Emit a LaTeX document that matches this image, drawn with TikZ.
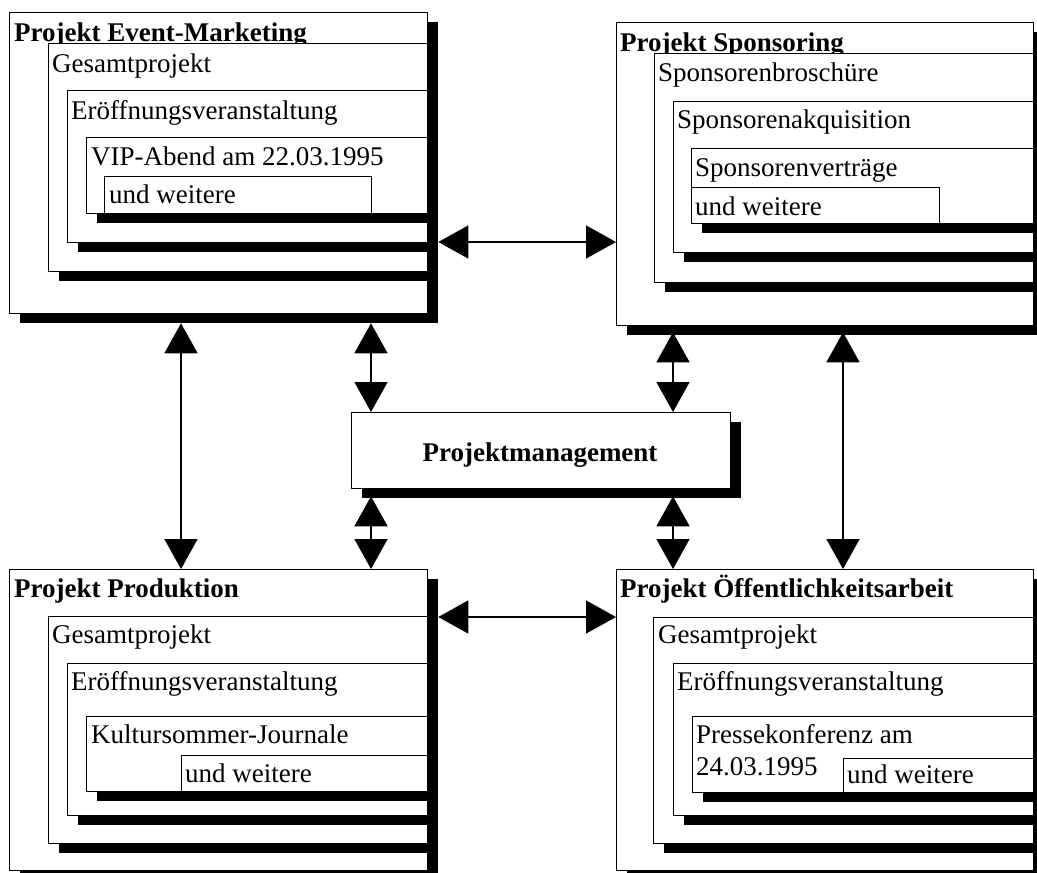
\documentclass[tikz,border=0pt]{standalone}
\usepackage{fontspec}
\setmainfont{Liberation Serif}
\usetikzlibrary{arrows.meta,shadows}

\tikzset{
  box/.style={draw, fill=white, line width=1.3pt, inner sep=0pt, anchor=north west},
  shbox/.style={box, drop shadow={shadow xshift=10pt, shadow yshift=-9pt, opacity=1, fill=black}},
  txt/.style={inner sep=0pt, anchor=base west, font=\fontsize{27}{32}\selectfont},
  head/.style={txt, font=\fontsize{27}{32}\selectfont\bfseries},
  link/.style={line width=1.5pt, {Triangle[length=30pt,width=33pt]}-{Triangle[length=30pt,width=33pt]}},
}

\begin{document}
\begin{tikzpicture}[x=1pt, y=-1pt]
\useasboundingbox (0,0) rectangle (1037,873);

% Projekt Event-Marketing
\node[shbox, minimum width=418pt, minimum height=301pt] (em) at (9,12) {};
\node[head] (emt) at (14,41) {Projekt Event-Marketing};
\node[shbox, minimum width=379pt, minimum height=228pt] (emg) at (48,43) {};
\node[txt] (emgt) at (52,72) {Gesamtprojekt};
\node[shbox, minimum width=360pt, minimum height=152pt] (eme) at (67,90) {};
\node[txt] (emet) at (71,119) {Eröffnungsveranstaltung};
\node[shbox, minimum width=341pt, minimum height=76pt] (emv) at (86,137) {};
\node[txt] (emvt) at (91,165) {VIP-Abend am 22.03.1995};
\node[box, minimum width=267pt, minimum height=37pt] (emu) at (104,176) {};
\node[txt] (emut) at (109,203) {und weitere};

% Projekt Sponsoring
\node[shbox, minimum width=417pt, minimum height=303pt] (sp) at (616,22) {};
\node[head] (spt) at (620,51) {Projekt Sponsoring};
\node[shbox, minimum width=379pt, minimum height=229pt] (spb) at (654,53) {};
\node[txt] (spbt) at (658,81) {Sponsorenbroschüre};
\node[shbox, minimum width=360pt, minimum height=151pt] (spa) at (673,101) {};
\node[txt] (spat) at (677,128) {Sponsorenakquisition};
\node[shbox, minimum width=342pt, minimum height=75pt] (spv) at (691,148) {};
\node[txt] (spvt) at (695,176) {Sponsorenverträge};
\node[box, minimum width=248pt, minimum height=36pt] (spu) at (691,187) {};
\node[txt] (sput) at (695,215) {und weitere};

% Projekt Produktion
\node[shbox, minimum width=418pt, minimum height=301pt] (pr) at (9,569) {};
\node[head] (prt) at (14,597) {Projekt Produktion};
\node[shbox, minimum width=379pt, minimum height=227pt] (prg) at (48,616) {};
\node[txt] (prgt) at (52,643) {Gesamtprojekt};
\node[shbox, minimum width=360pt, minimum height=152pt] (pre) at (67,663) {};
\node[txt] (pret) at (71,690) {Eröffnungsveranstaltung};
\node[shbox, minimum width=341pt, minimum height=75pt] (prk) at (86,716) {};
\node[txt] (prkt) at (91,743) {Kultursommer-Journale};
\node[box, minimum width=246pt, minimum height=36pt] (pru) at (181,755) {};
\node[txt] (prut) at (185,782) {und weitere};

% Projekt Oeffentlichkeitsarbeit
\node[shbox, minimum width=417pt, minimum height=301pt] (oa) at (616,569) {};
\node[head] (oat) at (620,597) {Projekt Öffentlichkeitsarbeit};
\node[shbox, minimum width=380pt, minimum height=226pt] (oag) at (653,617) {};
\node[txt] (oagt) at (658,643) {Gesamtprojekt};
\node[shbox, minimum width=360pt, minimum height=152pt] (oae) at (673,663) {};
\node[txt] (oaet) at (677,690) {Eröffnungsveranstaltung};
\node[shbox, minimum width=341pt, minimum height=76pt] (oap) at (692,716) {};
\node[txt] (oapt) at (696,743) {Pressekonferenz am};
\node[txt] (oapd) at (696,775) {24.03.1995};
\node[box, minimum width=190pt, minimum height=34pt] (oau) at (843,758) {};
\node[txt] (oaut) at (847,783) {und weitere};

% Projektmanagement
\node[shbox, minimum width=379pt, minimum height=76pt] (pm) at (351,412) {};
\node[head, anchor=base] (pmt) at (540,461) {Projektmanagement};

\coordinate (c1) at (181,0);
\coordinate (c2) at (371,0);
\coordinate (c3) at (673,0);
\coordinate (c4) at (843,0);
\coordinate (r1) at (0,242);
\coordinate (r2) at (0,617);

\draw[link] ([xshift=10pt]em.east |- r1) -- (sp.west |- r1);
\draw[link] ([xshift=10pt]pr.east |- r2) -- (oa.west |- r2);
\draw[link] ([yshift=-9pt]em.south -| c1) -- (pr.north -| c1);
\draw[link] ([yshift=-9pt]em.south -| c2) -- (pm.north -| c2);
\draw[link] ([yshift=-7pt]pm.south -| c2) -- (pr.north -| c2);
\draw[link] ([yshift=-6pt]sp.south -| c3) -- (pm.north -| c3);
\draw[link] ([yshift=-7pt]pm.south -| c3) -- (oa.north -| c3);
\draw[link] ([yshift=-6pt]sp.south -| c4) -- (oa.north -| c4);

\end{tikzpicture}
\end{document}
